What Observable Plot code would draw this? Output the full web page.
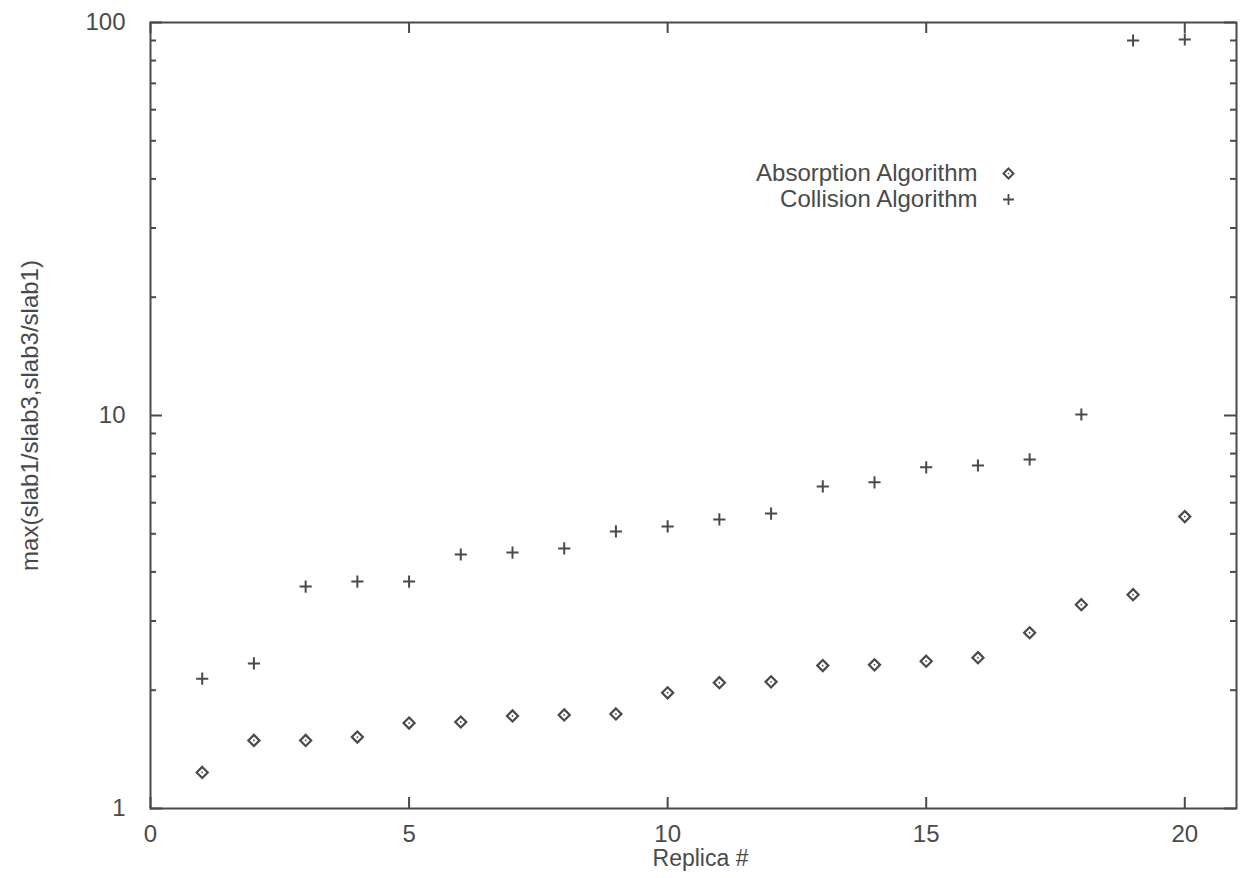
<!DOCTYPE html>
<html>
<head>
<meta charset="utf-8">
<script src="https://cdn.jsdelivr.net/npm/d3@7"></script>
<script src="https://cdn.jsdelivr.net/npm/@observablehq/plot@0.6"></script>
<style>
  html, body { margin: 0; padding: 0; background: #fff; }
  #chart svg { display: block; }
</style>
</head>
<body>
<div id="chart"></div>
<script>
const replicas = [1,2,3,4,5,6,7,8,9,10,11,12,13,14,15,16,17,18,19,20];
const absorption = [1.235,1.49,1.49,1.52,1.65,1.66,1.72,1.73,1.74,1.97,2.09,2.10,2.31,2.32,2.37,2.42,2.80,3.30,3.50,5.53];
const collision  = [2.14,2.34,3.67,3.78,3.78,4.43,4.48,4.59,5.07,5.22,5.44,5.63,6.60,6.76,7.38,7.46,7.73,10.06,90,90.5];
const seriesNames = ["Absorption Algorithm", "Collision Algorithm"];
const xTicks = [0,5,10,15,20];
const yMajor = [1,10,100];
const yMinor = [2,3,4,5,6,7,8,9,20,30,40,50,60,70,80,90];

const absData = replicas.map((r,i) => ({x: r, y: absorption[i]}));
const colData = replicas.map((r,i) => ({x: r, y: collision[i]}));

const ink = "#4a4a4a";
const W = 1246, H = 878;
const mL = 150, mR = 10, mT = 22, mB = 70;
const innerH = H - mT - mB, innerW = W - mL - mR;

const chart = Plot.plot({
  width: W, height: H,
  marginLeft: mL, marginRight: mR, marginTop: mT, marginBottom: mB,
  style: {fontFamily: "'Liberation Sans', Arial, sans-serif", color: ink, background: "#fff"},
  x: {domain: [0, 21], axis: null},
  y: {type: "log", domain: [1, 100], axis: null},
  marks: [
    // tick labels
    Plot.text(xTicks, {x: d => d, text: d => String(d), frameAnchor: "bottom", dy: 26, lineAnchor: "middle", textAnchor: "middle", fontSize: 24, fill: ink}),
    Plot.text(yMajor, {y: d => d, text: d => String(d), frameAnchor: "left", dx: -25, lineAnchor: "middle", textAnchor: "end", fontSize: 24, fill: ink}),
    // inward ticks: bottom & top
    Plot.ruleX(xTicks, {x: d => d, insetTop: innerH - 11, stroke: ink, strokeWidth: 2}),
    Plot.ruleX(xTicks, {x: d => d, insetBottom: innerH - 11, stroke: ink, strokeWidth: 2}),
    // inward ticks: left & right, major and minor
    Plot.ruleY(yMajor, {y: d => d, insetRight: innerW - 12, stroke: ink, strokeWidth: 2}),
    Plot.ruleY(yMajor, {y: d => d, insetLeft: innerW - 12, stroke: ink, strokeWidth: 2}),
    Plot.ruleY(yMinor, {y: d => d, insetRight: innerW - 6, stroke: ink, strokeWidth: 2}),
    Plot.ruleY(yMinor, {y: d => d, insetLeft: innerW - 6, stroke: ink, strokeWidth: 2}),
    Plot.frame({stroke: ink, strokeWidth: 2}),
    // data
    Plot.dot(absData, {x: "x", y: "y", symbol: "diamond2", r: 5, stroke: ink, strokeWidth: 2.2, fill: "none"}),
    Plot.dot(absData, {x: "x", y: "y", r: 0.9, fill: ink, stroke: "none"}),
    Plot.dot(colData, {x: "x", y: "y", symbol: "plus", r: 4, stroke: ink, strokeWidth: 2}),
    // legend
    Plot.text([seriesNames[0]], {text: d => d, frameAnchor: "top-left", dx: 827, dy: 151, textAnchor: "end", lineAnchor: "middle", fontSize: 24, fill: ink}),
    Plot.text([seriesNames[1]], {text: d => d, frameAnchor: "top-left", dx: 827, dy: 177, textAnchor: "end", lineAnchor: "middle", fontSize: 24, fill: ink}),
    Plot.dot([0], {frameAnchor: "top-left", dx: 858, dy: 151, symbol: "diamond2", r: 4.5, stroke: ink, strokeWidth: 2, fill: "none"}),
    Plot.dot([0], {frameAnchor: "top-left", dx: 858, dy: 151, r: 0.8, fill: ink, stroke: "none"}),
    Plot.dot([0], {frameAnchor: "top-left", dx: 858, dy: 177, symbol: "plus", r: 3.6, stroke: ink, strokeWidth: 1.8}),
    // axis titles
    Plot.text(["Replica #"], {text: d => d, frameAnchor: "bottom", dx: 7, dy: 50, textAnchor: "middle", lineAnchor: "middle", fontSize: 23, fill: ink}),
    Plot.text(["max(slab1/slab3,slab3/slab1)"], {text: d => d, frameAnchor: "left", dx: -120, rotate: -90, textAnchor: "middle", lineAnchor: "middle", fontSize: 24, fill: ink})
  ]
});
document.getElementById("chart").appendChild(chart);
</script>
</body>
</html>
